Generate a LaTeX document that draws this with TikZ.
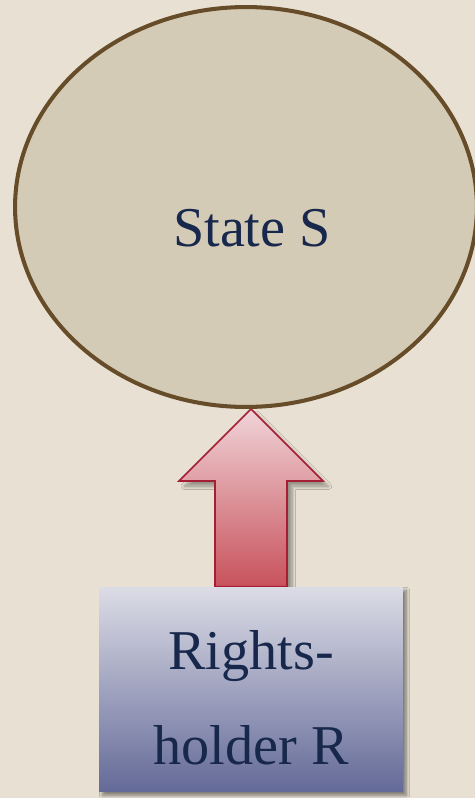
\documentclass[tikz,border=0pt]{standalone}
\usepackage{fontspec}
\setmainfont{Liberation Serif}
\usetikzlibrary{positioning, calc, shapes.geometric, shadows.blur, backgrounds}
\definecolor{PaperBeige}{RGB}{232,225,211}
\definecolor{StateFill}{RGB}{211,203,181}
\definecolor{StateEdge}{RGB}{102,76,40}
\definecolor{InkNavy}{RGB}{24,40,76}
\definecolor{ArrowEdge}{RGB}{164,30,52}
\definecolor{ArrowTop}{RGB}{240,212,216}
\definecolor{ArrowBottom}{RGB}{200,82,92}
\definecolor{HolderTop}{RGB}{220,220,230}
\definecolor{HolderBottom}{RGB}{100,106,152}

\begin{document}
\begin{tikzpicture}[x=0.02cm, y=-0.02cm, text=InkNavy]
    \tikzset{
        stateblob/.style={ellipse, draw=StateEdge, line width=2.3pt,
            fill=StateFill, minimum width=9.24cm, minimum height=8cm,
            inner sep=0pt},
        holderbox/.style={rectangle, top color=HolderTop,
            bottom color=HolderBottom, minimum width=6.08cm,
            minimum height=4.1cm, inner sep=0pt,
            blur shadow={shadow xshift=2pt, shadow yshift=-2pt,
                shadow blur steps=8, shadow opacity=45}},
        bigtext/.style={align=center, inner sep=0pt,
            font=\fontsize{32}{54}\selectfont},
        upblock/.style={draw=ArrowEdge, line width=0.9pt, line join=miter,
            top color=ArrowTop, bottom color=ArrowBottom,
            blur shadow={shadow xshift=3pt, shadow yshift=-3pt,
                shadow blur steps=8, shadow opacity=35}}
    }
    \useasboundingbox (0,0) rectangle (475,798);
    \node[stateblob] (state) at (246,207) {};
    \node[bigtext] (statename) at ($(state.center)+(6,21)$) {State S};
    \node[holderbox] (holder) at (251,689.5) {};
    \node[bigtext] (holdername) at ($(holder.center)+(0,8)$) {Rights-\\holder R};
    % block arrow from the rights-holder up to the state
    \coordinate (tip) at (holder.north |- state.south);
    \coordinate (base) at ($(tip)+(0,72)$);
    \begin{scope}[on background layer]
        \fill[PaperBeige] (0,0) rectangle (475,798);
        \draw[upblock] ($(holder.north)+(-36,0)$) -- ($(base)+(-36,0)$)
            -- ($(base)+(-72,0)$) -- (tip) -- ($(base)+(72,0)$)
            -- ($(base)+(36,0)$) -- ($(holder.north)+(36,0)$) -- cycle;
    \end{scope}
\end{tikzpicture}
\end{document}
